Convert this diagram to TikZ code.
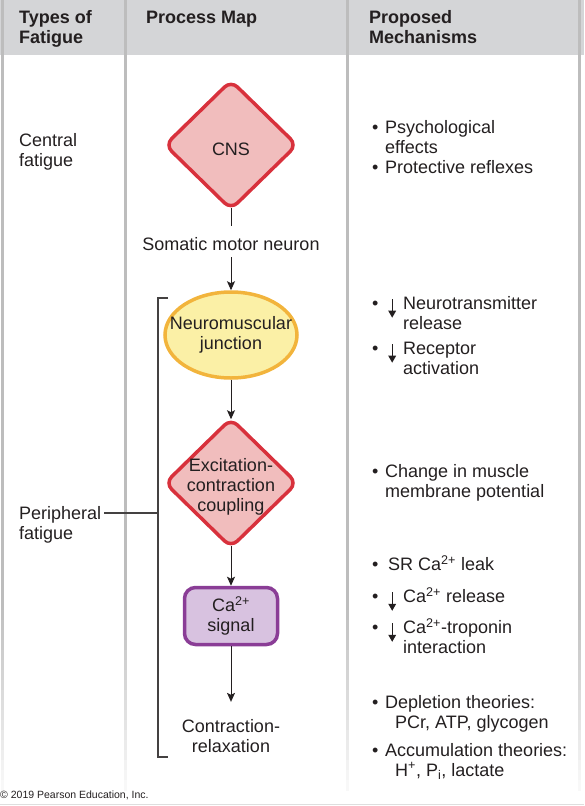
\documentclass[tikz,border=0pt]{standalone}
\usepackage{fontspec}
\setmainfont{Liberation Sans}
\usetikzlibrary{shapes.geometric,arrows.meta}

\definecolor{headgray}{HTML}{D4D5D7}
\definecolor{rulegray}{HTML}{BDBDBD}
\definecolor{ink}{HTML}{231F20}
\definecolor{cnsfill}{HTML}{F1BDBD}
\definecolor{cnsline}{HTML}{D8313C}
\definecolor{nmjfill}{HTML}{FBF0A6}
\definecolor{nmjline}{HTML}{F2B43C}
\definecolor{cafill}{HTML}{D8C2E0}
\definecolor{caline}{HTML}{8A3D96}

\newcommand{\bodyfont}{\fontsize{18}{20}\selectfont}
\newcommand{\bul}{\makebox[13pt][l]{•}}
% small down arrow used in the mechanism list
\newcommand{\dnarrow}{\smash{\tikz[x=1pt, y=1pt, baseline=0pt]{%
      \draw[line width=0.9pt] (0,10) -- (0,-2);
      \fill (-4,-1.5) -- (4,-1.5) -- (0,-8.5) -- cycle;}}}
\newcommand{\dnbul}{\makebox[15pt][l]{•}\makebox[16pt][l]{\hspace{1pt}\dnarrow}}

\tikzset{
  txt/.style={anchor=north west, inner sep=0pt, align=left},
  head/.style={txt, font=\bodyfont\bfseries},
  redbox/.style={diamond, draw=cnsline, fill=cnsfill, line width=3.5pt, rounded corners=9pt,
                 minimum width=133pt, minimum height=130pt, inner sep=0pt},
  yellowoval/.style={ellipse, draw=nmjline, fill=nmjfill, line width=3.5pt,
                 minimum width=132pt, minimum height=86pt, inner sep=0pt},
  purplebox/.style={rectangle, draw=caline, fill=cafill, line width=3.5pt, rounded corners=11pt,
                 minimum width=93pt, minimum height=57pt, align=center},
  flow/.style={draw=ink, line width=1pt, -{Stealth[length=9pt, width=8pt, inset=2pt]}},
  brace/.style={draw=ink!85, line width=1.1pt},
}

\begin{document}
\begin{tikzpicture}[x=1pt, y=-1pt, font=\bodyfont, text=ink]
      \useasboundingbox (0,0) rectangle (584,806);
      % table background, column rules fade out near the bottom
      \fill[headgray] (0,0) rectangle (584,55);
      \foreach \x in {2,125,347,579} {
        \fill[rulegray] (\x-1.5,0) rectangle (\x+1.5,600);
        \foreach \i in {0,...,18}
          \fill[rulegray!\the\numexpr100-5*\i\relax] (\x-1.5,600+10*\i) rectangle (\x+1.5,610.5+10*\i);
      }
      \draw[rulegray!50, line width=1pt] (0,804) -- (584,804);

      \node[head]                 (htype) at ( 19,   9) {\strut Types of\\Fatigue};
      \node[head]                  (hmap) at (146,   9) {\strut Process Map};
      \node[head]                 (hmech) at (369,   9) {\strut Proposed\\Mechanisms};

      \node[txt]                (central) at ( 19, 132) {\strut Central\\fatigue};
      \node[txt]                 (periph) at ( 19, 505) {\strut Peripheral\\fatigue};

      % process map
      \node[redbox, label={[yshift=-4pt]center:CNS}]                                    (cns) at (231, 145) {};
      \node                                                                                 (smn) at (231, 244) {Somatic motor neuron};
      \node[yellowoval, label={[align=center]center:Neuromuscular\\junction}]             (nmj) at (231, 335) {};
      \node[redbox, label={[align=center, yshift=-4pt]center:Excitation-\\contraction\\coupling}] (ecc) at (231, 483) {};
      \node[purplebox]                                                                      (ca) at (231, 616) {Ca\textsuperscript{2+}\\signal};
      \node[align=center]                                                                   (cr) at (231, 736) {Contraction-\\relaxation};

      \draw[draw=ink, line width=1pt, shorten <=-3.7pt, shorten >=8pt] (cns) -- (smn);
      \draw[flow, shorten <=3pt]                                        (smn) -- (nmj);
      \draw[flow, shorten >=-3pt]                                       (nmj) -- (ecc);
      \draw[flow, shorten <=-3.7pt]                                     (ecc) -- (ca);
      \draw[flow, shorten >=14pt]                                       (ca)  -- (cr);

      % bracket for peripheral fatigue
      \coordinate (btop)  at (168, 298);
      \coordinate (bbot)  at (168, 757);
      \coordinate (bmid)  at (158, 513);
      \coordinate (pfend) at (104, 513);
      \draw[brace] (btop) -| (bmid) |- (bbot);
      \draw[brace] (pfend) -- (bmid);

      % proposed mechanisms
      \node[txt]  (psych) at (372, 119) {\strut\bul Psychological\\\hspace*{13pt}effects};
      \node[txt] (reflex) at (372, 159) {\strut\bul Protective reflexes};
      \node[txt] (ntrans) at (372, 295) {\strut\dnbul Neurotransmitter\\\hspace*{31pt}release};
      \node[txt]  (recep) at (372, 340) {\strut\dnbul Receptor\\\hspace*{31pt}activation};
      \node[txt]   (memb) at (372, 463) {\strut\bul Change in muscle\\\hspace*{13pt}membrane potential};
      \node[txt]   (leak) at (372, 555) {\strut\makebox[16pt][l]{•}SR Ca\textsuperscript{2+} leak};
      \node[txt]  (carel) at (372, 587) {\strut\dnbul Ca\textsuperscript{2+} release};
      \node[txt]   (trop) at (372, 618) {\strut\dnbul Ca\textsuperscript{2+}-troponin\\\hspace*{31pt}interaction};
      \node[txt] (deplet) at (372, 694) {\strut\bul Depletion theories:\\\hspace*{23pt}PCr, ATP, glycogen};
      \node[txt]  (accum) at (372, 742) {\strut\bul Accumulation theories:\\\hspace*{23pt}H\textsuperscript{+}, P\textsubscript{i}, lactate};

      \node[anchor=west, inner sep=0pt, font=\fontsize{10.5}{12}\selectfont] (copy) at (0, 795) {© 2019 Pearson Education, Inc.};
\end{tikzpicture}
\end{document}
